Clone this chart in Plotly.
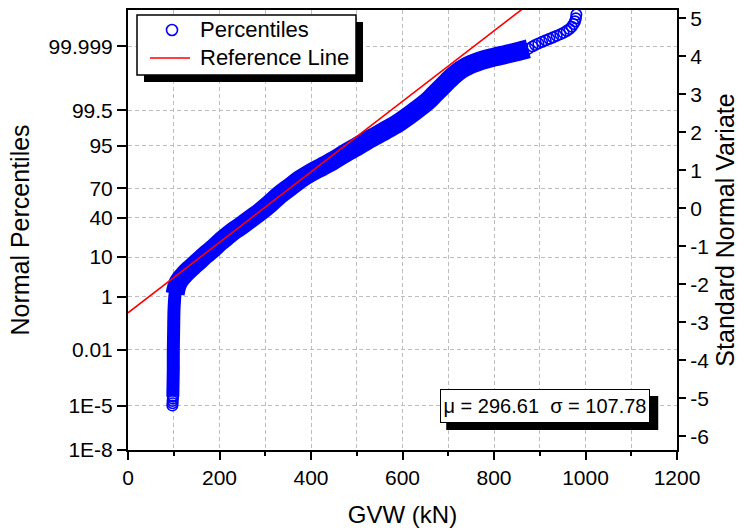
import plotly.graph_objects as go
from statistics import NormalDist

# ---------------- data ----------------
# GVW (kN) and standard normal variate of the plotted percentiles
gvw_low = [97, 97.5, 97.5, 98, 98]
z_low = [-5.19, -5.13, -5.07, -5.01, -4.95]

gvw_col = [98, 98.5, 99, 99, 99.5, 100, 100.5, 101.5, 103, 106]
z_col = [-4.95, -4.6, -4.2, -3.8, -3.4, -3.0, -2.7, -2.45, -2.25, -2.08]

gvw_band = [103, 106, 110, 116, 124, 134, 146, 158, 170, 185, 200, 216, 234, 252,
            270, 290, 310, 332, 354, 376, 400, 425, 449, 475, 500, 522, 545, 570,
            595, 615, 635, 655, 670, 685, 698, 710, 722, 735, 750, 775, 800, 825,
            850, 875]
z_band = [-2.25, -2.08, -1.95, -1.84, -1.73, -1.61, -1.48, -1.35, -1.22, -1.07, -0.9,
          -0.74, -0.57, -0.42, -0.26, -0.08, 0.12, 0.36, 0.56, 0.76, 0.94, 1.1, 1.26,
          1.45, 1.62, 1.78, 1.93, 2.1, 2.28, 2.45, 2.63, 2.82, 3.0, 3.18, 3.34, 3.48,
          3.6, 3.7, 3.79, 3.9, 3.98, 4.05, 4.12, 4.2]

gvw_high = [884, 890, 897, 905, 913, 921, 929, 937, 945, 952, 959, 965, 970, 974,
            977, 979, 980]
z_high = [4.26, 4.3, 4.34, 4.38, 4.42, 4.46, 4.5, 4.54, 4.58, 4.62, 4.67, 4.72,
          4.78, 4.85, 4.92, 5.0, 5.1]

mu = 296.61
sigma = 107.78

pct_ticks = [1e-8, 1e-5, 0.01, 1, 10, 40, 70, 95, 99.5, 99.999]
pct_labels = ["1E-8", "1E-5", "0.01", "1", "10", "40", "70", "95", "99.5", "99.999"]
snv_ticks = [-6, -5, -4, -3, -2, -1, 0, 1, 2, 3, 4, 5]
x_range = [0, 1200]
series_names = ["Percentiles", "Reference Line"]

# ---------------- figure ----------------
nd = NormalDist()
pct_z = [nd.inv_cdf(p / 100.0) for p in pct_ticks]
y_range = [pct_z[0], 5.22]

BLUE = "#0000FF"
RED = "#FF0000"
GRID = "#BEBEBE"
FONT = "Liberation Sans, Arial, sans-serif"

fig = go.Figure()
fig.add_trace(go.Scatter(x=gvw_col, y=z_col, mode="lines",
                         line=dict(color=BLUE, width=13, shape="spline"),
                         showlegend=False, hoverinfo="skip"))
fig.add_trace(go.Scatter(x=gvw_band, y=z_band, mode="lines",
                         line=dict(color=BLUE, width=19, shape="spline"),
                         showlegend=False, hoverinfo="skip"))
all_x = gvw_low + gvw_col + gvw_band + gvw_high
all_z = z_low + z_col + z_band + z_high
fig.add_trace(go.Scatter(x=all_x, y=all_z, mode="markers", name=series_names[0],
                         marker=dict(symbol="circle-open", size=10.5, color=BLUE,
                                     line=dict(width=1.6, color=BLUE))))
ref_z = [(v - mu) / sigma for v in x_range]
fig.add_trace(go.Scatter(x=x_range, y=ref_z, mode="lines", name=series_names[1],
                         line=dict(color=RED, width=1.6), yaxis="y2"))

grid_common = dict(showgrid=True, gridcolor=GRID, gridwidth=1, griddash="4px,3px")

fig.update_layout(
    width=744, height=531,
    margin=dict(l=128, r=67, t=7, b=80),
    paper_bgcolor="white", plot_bgcolor="white",
    font=dict(family=FONT, size=21, color="black"),
    showlegend=False,
    xaxis=dict(range=x_range, dtick=200, tick0=0, ticks="outside", ticklen=8,
               tickwidth=1.5, tickcolor="black", showline=True, linecolor="black",
               linewidth=2, mirror=True, zeroline=False,
               minor=dict(dtick=100, tick0=0, ticks="outside", ticklen=4,
                          tickwidth=1.5, tickcolor="black", **grid_common),
               title=dict(text="GVW (kN)", font=dict(size=24), standoff=18),
               **grid_common),
    yaxis=dict(range=y_range, tickmode="array", tickvals=pct_z, ticktext=pct_labels,
               ticks="outside", ticklen=9, tickwidth=1.5, tickcolor="black",
               showline=True, linecolor="black", linewidth=2, zeroline=False,
               title=dict(text="Normal Percentiles", font=dict(size=25), standoff=12),
               **grid_common),
    yaxis2=dict(range=y_range, overlaying="y", side="right", tickmode="array",
                tickvals=snv_ticks, ticktext=[str(v) for v in snv_ticks],
                ticks="outside", ticklen=7, tickwidth=1.5,
                tickcolor="black", showline=True, linecolor="black", linewidth=2,
                showgrid=False, zeroline=False,
                title=dict(text="Standard Normal Variate", font=dict(size=25), standoff=8)),
)

# ---- legend box (drawn as pixel-sized shapes anchored at the box's top-left) ----
lx, ly = 9 / 549, 439 / 444
box = dict(xref="paper", yref="paper", xsizemode="pixel", ysizemode="pixel",
           xanchor=lx, yanchor=ly, layer="above")
fig.add_shape(type="rect", x0=7, x1=226, y0=-67, y1=-7, fillcolor="black",
              line=dict(width=0), **box)
fig.add_shape(type="rect", x0=0, x1=219, y0=-60, y1=0, fillcolor="white",
              line=dict(color="black", width=1.5), **box)
fig.add_shape(type="circle", x0=29.5, x1=40.5, y0=-20.5, y1=-9.5,
              line=dict(color=BLUE, width=1.6), **box)
fig.add_shape(type="line", x0=13, x1=53, y0=-43, y1=-43,
              line=dict(color=RED, width=1.6), **box)
for name, dy in zip(series_names, [15, 43]):
    fig.add_annotation(x=(198 - 128) / 549, y=(439 - dy) / 444, xref="paper",
                       yref="paper", xanchor="left", yanchor="middle",
                       showarrow=False, text=name, font=dict(size=22, color="black"))

# ---- statistics box with drop shadow ----
ann_x, ann_y = 912, -5.2
fig.add_shape(type="rect", xref="x", yref="y", xsizemode="pixel", ysizemode="pixel",
              xanchor=ann_x, yanchor=ann_y, x0=-99, x1=113, y0=-24, y1=10,
              fillcolor="black", line=dict(width=0), layer="above")
fig.add_annotation(x=ann_x, y=ann_y, xref="x", yref="y", showarrow=False,
                   text=f"μ = {mu:.2f}\u00a0\u00a0σ = {sigma:.2f}",
                   font=dict(size=20, color="black"), bgcolor="white",
                   bordercolor="black", borderwidth=1, borderpad=1,
                   width=206, height=30)

fig.write_html("out.html", config={"displayModeBar": False},
               post_script="document.body.style.margin='0px';")
